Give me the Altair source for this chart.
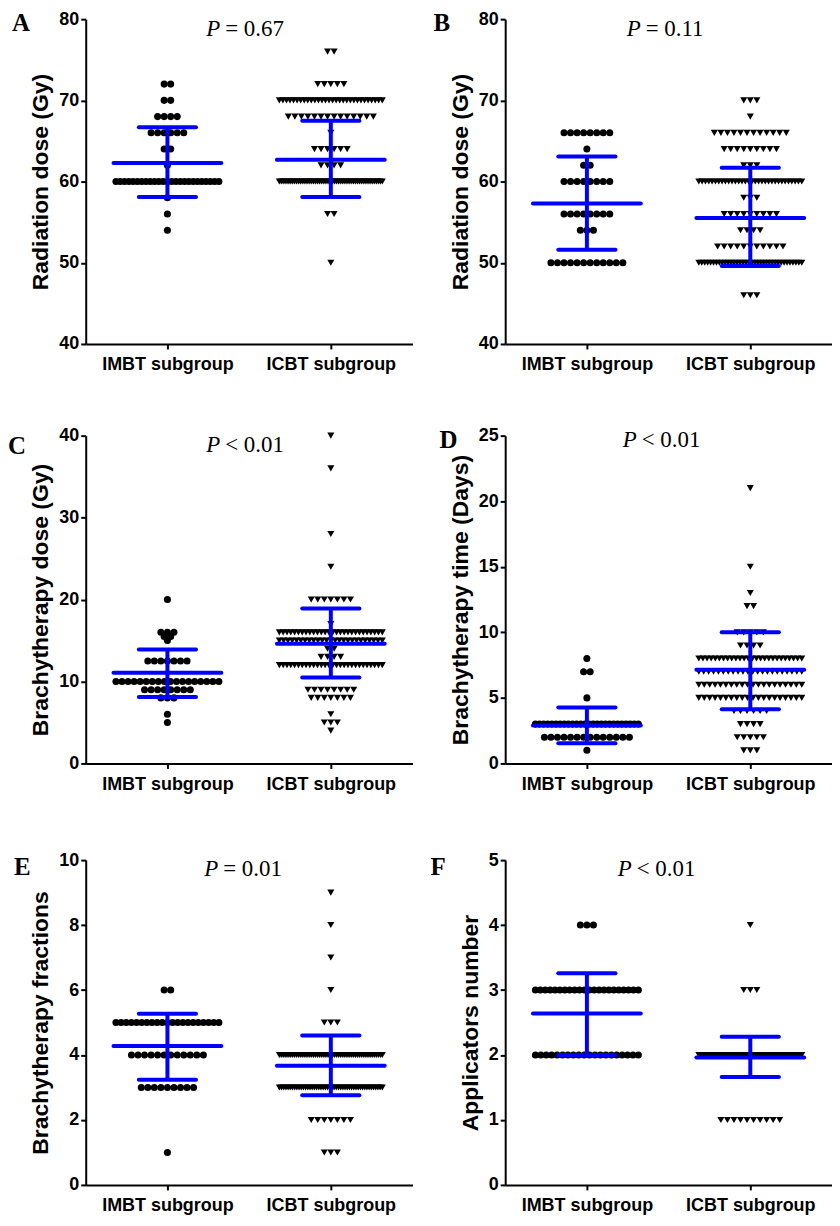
import altair as alt
import pandas as pd

# ---------------- data ----------------
panel_ids = ["A", "B", "C", "D", "E", "F"]
y_titles = ["Radiation dose (Gy)", "Radiation dose (Gy)", "Brachytherapy dose (Gy)",
            "Brachytherapy time (Days)", "Brachytherapy fractions", "Applicators number"]
y_domains = [[40, 80], [40, 80], [0, 40], [0, 25], [0, 10], [0, 5]]
y_ticks = [[40, 50, 60, 70, 80], [40, 50, 60, 70, 80], [0, 10, 20, 30, 40],
           [0, 5, 10, 15, 20, 25], [0, 2, 4, 6, 8, 10], [0, 1, 2, 3, 4, 5]]
p_symbols = ["P", "P", "P", "P", "P", "P"]
p_rests = ["= 0.67", "= 0.11", "< 0.01", "< 0.01", "= 0.01", "< 0.01"]
group_names = ["IMBT subgroup", "ICBT subgroup"]

# (values, counts) of dots per panel and subgroup
A_imbt_values = [72, 70, 68, 66, 64, 62, 60, 58, 56, 54]
A_imbt_counts = [2, 2, 4, 6, 2, 1, 25, 1, 1, 1]
A_icbt_values = [76, 72, 70, 68, 66, 64, 62, 60, 56, 50]
A_icbt_counts = [2, 5, 30, 14, 1, 6, 4, 55, 2, 1]

B_imbt_values = [66, 64, 62, 60, 56, 54, 50]
B_imbt_counts = [8, 1, 2, 8, 8, 3, 12]
B_icbt_values = [70, 68, 66, 64, 62, 60, 58, 56, 54, 52, 50, 46]
B_icbt_counts = [3, 1, 12, 9, 3, 32, 3, 9, 4, 11, 36, 3]

C_imbt_values = [20, 16, 15.5, 15, 12.5, 10, 9, 8, 6, 5]
C_imbt_counts = [1, 3, 2, 1, 7, 18, 8, 3, 1, 1]
C_icbt_values = [40, 36, 28, 24, 20, 17, 16, 15, 14, 13, 12, 9, 8, 6, 5, 4]
C_icbt_counts = [1, 1, 1, 1, 7, 1, 28, 25, 2, 4, 28, 8, 7, 1, 3, 1]

D_imbt_values = [8, 7, 5, 3, 2, 1]
D_imbt_counts = [1, 2, 1, 26, 14, 1]
D_icbt_values = [21, 15, 13, 12, 10, 9, 8, 7, 6, 5, 4, 3, 2, 1]
D_icbt_counts = [1, 1, 1, 2, 5, 4, 26, 22, 20, 20, 6, 4, 5, 3]

E_imbt_values = [6, 5, 4, 3, 1]
E_imbt_counts = [2, 21, 12, 9, 1]
E_icbt_values = [9, 8, 7, 6, 5, 4, 3, 2, 1]
E_icbt_counts = [1, 1, 1, 1, 3, 55, 48, 7, 3]

F_imbt_values = [4, 3, 2]
F_imbt_counts = [3, 22, 20]
F_icbt_values = [4, 3, 2, 1]
F_icbt_counts = [1, 3, 106, 10]

# mean and mean +/- SD
mean_imbt = [62.3, 57.3, 11.06, 2.9, 4.28, 2.64]
lo_imbt = [58.1, 51.6, 8.1, 1.54, 3.24, 2.0]
hi_imbt = [66.7, 63.1, 13.9, 4.27, 5.27, 3.26]
mean_icbt = [62.7, 55.5, 14.6, 7.15, 3.67, 1.96]
lo_icbt = [58.1, 49.6, 10.5, 4.14, 2.76, 1.66]
hi_icbt = [67.5, 61.7, 18.9, 10.0, 4.6, 2.28]

# ---------------- tables ----------------
dot_sets = {
    "A": [(A_imbt_values, A_imbt_counts), (A_icbt_values, A_icbt_counts)],
    "B": [(B_imbt_values, B_imbt_counts), (B_icbt_values, B_icbt_counts)],
    "C": [(C_imbt_values, C_imbt_counts), (C_icbt_values, C_icbt_counts)],
    "D": [(D_imbt_values, D_imbt_counts), (D_icbt_values, D_icbt_counts)],
    "E": [(E_imbt_values, E_imbt_counts), (E_icbt_values, E_icbt_counts)],
    "F": [(F_imbt_values, F_imbt_counts), (F_icbt_values, F_icbt_counts)],
}
rows = []
for pid, sets in dot_sets.items():
    for gi, (vals, cnts) in enumerate(sets):
        for v, c in zip(vals, cnts):
            for _ in range(c):
                rows.append({"panel": pid, "group": gi + 1,
                             "kind": "IMBT" if gi == 0 else "ICBT", "value": v})
points_df = pd.DataFrame(rows)

stat_rows = []
for i, pid in enumerate(panel_ids):
    stat_rows.append({"panel": pid, "group": 1, "mean": mean_imbt[i], "lo": lo_imbt[i], "hi": hi_imbt[i]})
    stat_rows.append({"panel": pid, "group": 2, "mean": mean_icbt[i], "lo": lo_icbt[i], "hi": hi_icbt[i]})
stats_df = pd.DataFrame(stat_rows)

text_df = pd.DataFrame({"panel": panel_ids, "letter": panel_ids,
                        "psym": p_symbols, "prest": p_rests})

# ---------------- styling ----------------
W = 328
heights = [326, 326, 329, 329, 326, 326]
BLUE = "#0000FF"
NARROW = "Liberation Sans Narrow, Arial Narrow, Liberation Sans"
SANS = "Liberation Sans, Arial"
SERIF = "Liberation Serif, Times New Roman"

# letter / P-text positions (pixels, relative to plot area)
letter_pos = {"A": (-74, 12), "B": (-72, 12), "C": (-78, 18), "D": (-66, 12), "E": (-72, 15), "F": (-75, 15)}
p_pos = {"A": (121, 17), "B": (122, 17), "C": (121, 16), "D": (118, 11), "E": (119, 16), "F": (113, 16)}
# extra room under the middle row (its gap to the bottom row is wider)
extra_bottom = {"C": 24, "D": 24}


def make_panel(i):
    pid = panel_ids[i]
    H = heights[i]
    x_scale = alt.Scale(domain=[0.5, 2.5], nice=False, zero=False)
    y_scale = alt.Scale(domain=y_domains[i], nice=False, zero=False)
    x_axis = alt.Axis(values=[1, 2],
                      labelExpr="datum.value == 1 ? '%s' : '%s'" % (group_names[0], group_names[1]),
                      title=None, grid=False, domainColor="black", domainWidth=2,
                      tickColor="black", tickWidth=2, tickSize=5, labelFlush=False,
                      labelFont=NARROW, labelFontSize=18, labelFontWeight="bold",
                      labelColor="black", labelPadding=7)
    y_axis = alt.Axis(values=y_ticks[i], title=y_titles[i], grid=False,
                      domainColor="black", domainWidth=2, tickColor="black",
                      tickWidth=2, tickSize=5, labelFont=NARROW, labelFontSize=18,
                      labelFontWeight="bold", labelColor="black", labelPadding=2,
                      titleFont=SANS, titleFontSize=23, titleFontWeight="bold",
                      titleColor="black", titlePadding=6)

    dots = alt.Chart(points_df).transform_filter(
        alt.datum.panel == pid
    ).transform_window(
        rank="row_number()", groupby=["group", "value"]
    ).transform_joinaggregate(
        n="count()", groupby=["group", "value"]
    ).transform_calculate(
        xpos="datum.group + (datum.rank - (datum.n + 1) / 2) * min(0.04, 0.63 / max(datum.n - 1, 1))"
    ).mark_point(filled=True, size=50, opacity=1, color="black", strokeWidth=0).encode(
        x=alt.X("xpos:Q", scale=x_scale, axis=x_axis),
        y=alt.Y("value:Q", scale=y_scale, axis=y_axis),
        shape=alt.Shape("kind:N", scale=alt.Scale(domain=["IMBT", "ICBT"],
                                                   range=["circle", "triangle-down"]),
                        legend=None),
    )

    base_stats = alt.Chart(stats_df).transform_filter(alt.datum.panel == pid)

    mean_rule = base_stats.transform_calculate(
        xa="datum.group - 0.33", xb="datum.group + 0.33"
    ).mark_rule(color=BLUE, strokeWidth=4, strokeCap="round").encode(
        x=alt.X("xa:Q", scale=x_scale, axis=x_axis), x2="xb:Q",
        y=alt.Y("mean:Q", scale=y_scale, axis=y_axis),
    )
    caps = base_stats.transform_fold(["lo", "hi"], as_=["k", "v"]).transform_calculate(
        xa="datum.group - 0.175", xb="datum.group + 0.175"
    ).mark_rule(color=BLUE, strokeWidth=4, strokeCap="round").encode(
        x=alt.X("xa:Q", scale=x_scale, axis=x_axis), x2="xb:Q",
        y=alt.Y("v:Q", scale=y_scale, axis=y_axis),
    )
    vline = base_stats.mark_rule(color=BLUE, strokeWidth=4).encode(
        x=alt.X("group:Q", scale=x_scale, axis=x_axis),
        y=alt.Y("lo:Q", scale=y_scale, axis=y_axis), y2="hi:Q",
    )

    tbase = alt.Chart(text_df).transform_filter(alt.datum.panel == pid)
    lx, ly = letter_pos[pid]
    letter = tbase.mark_text(font=SERIF, fontSize=25, fontWeight="bold", color="black",
                             align="left", baseline="alphabetic").encode(
        text="letter:N", x=alt.value(lx), y=alt.value(ly))
    px, py = p_pos[pid]
    psym = tbase.mark_text(font=SERIF, fontSize=23, fontStyle="italic", color="black",
                           align="left", baseline="alphabetic").encode(
        text="psym:N", x=alt.value(px), y=alt.value(py))
    prest = tbase.mark_text(font=SERIF, fontSize=23, color="black",
                            align="left", baseline="alphabetic").encode(
        text="prest:N", x=alt.value(px + 19), y=alt.value(py))

    layers = [dots, mean_rule, caps, vline, letter, psym, prest]
    if pid in extra_bottom:
        spacer = tbase.mark_text(fontSize=12, opacity=0, align="left", baseline="top").encode(
            text="letter:N", x=alt.value(0), y=alt.value(H + extra_bottom[pid]))
        layers.append(spacer)

    return alt.layer(*layers).properties(width=W, height=H)


chart = alt.concat(*[make_panel(i) for i in range(6)], columns=2,
                   spacing={"row": 53, "column": 18}).configure_view(stroke=None).properties(
    padding=0, background="white")

chart.save("out.html", embed_options={"renderer": "svg", "actions": False})
